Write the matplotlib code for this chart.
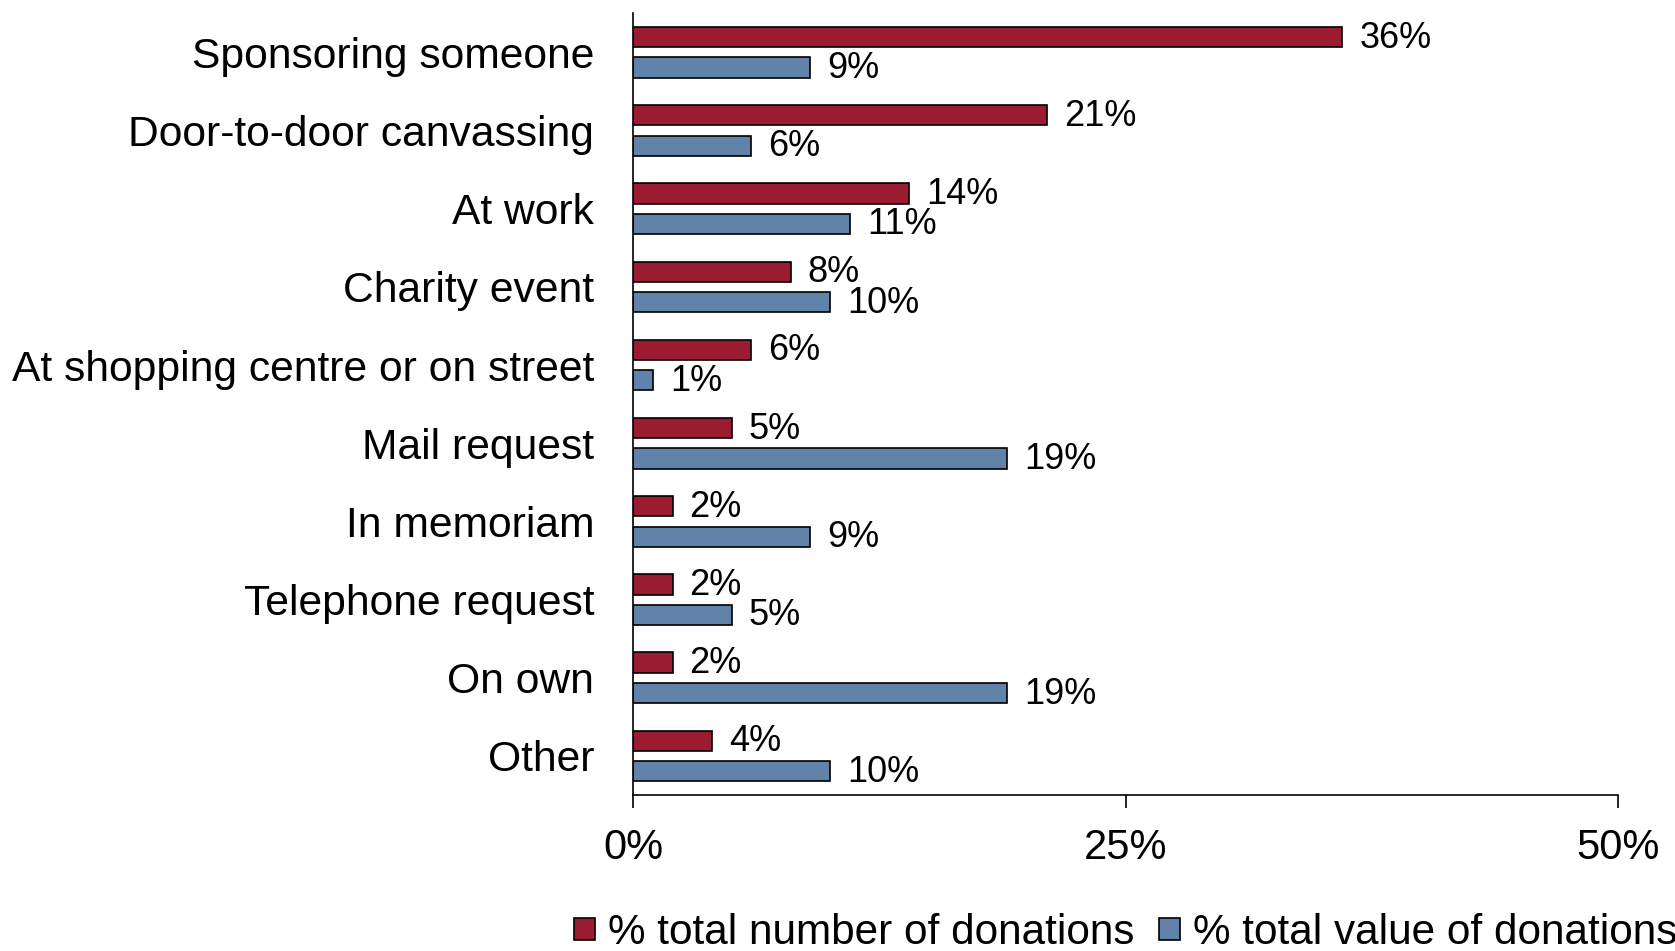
import matplotlib.pyplot as plt
import numpy as np

plt.rcParams["font.family"] = ["Liberation Sans", "DejaVu Sans"]

categories = ["Sponsoring someone", "Door-to-door canvassing", "At work", "Charity event",
              "At shopping centre or on street", "Mail request", "In memoriam",
              "Telephone request", "On own", "Other"]
pct_number = [36, 21, 14, 8, 6, 5, 2, 2, 2, 4]
pct_value = [9, 6, 11, 10, 1, 19, 9, 5, 19, 10]
xticks = [0, 25, 50]

red = "#9B1B30"
blue = "#6283A9"

fig = plt.figure(figsize=(16.75, 9.51), dpi=100)
ax = fig.add_axes([0.378, 0.164, 0.588, 0.822])

y = np.arange(len(categories))
off = 0.195
h = 0.26
b1 = ax.barh(y - off, pct_number, height=h, color=red, edgecolor="black", linewidth=1.2,
             label="% total number of donations")
b2 = ax.barh(y + off, pct_value, height=h, color=blue, edgecolor="black", linewidth=1.2,
             label="% total value of donations")

for bars, vals in ((b1, pct_number), (b2, pct_value)):
    for bar, v in zip(bars, vals):
        ax.annotate(f"{v}%", (bar.get_width(), bar.get_y() + bar.get_height() / 2),
                    xytext=(17, -1), textcoords="offset pixels", va="center", ha="left",
                    fontsize=26)

ax.set_xlim(0, 50)
ax.set_ylim(len(categories) - 0.5, -0.5)
ax.set_yticks(y)
ax.set_yticklabels(categories, fontsize=30.7)
ax.set_xticks(xticks)
ax.set_xticklabels([f"{t}%" for t in xticks], fontsize=30)
ax.tick_params(axis="y", length=0, pad=28)
ax.tick_params(axis="x", direction="out", length=9.4, width=1.2, pad=14)
for s in ("top", "right"):
    ax.spines[s].set_visible(False)
for s in ("left", "bottom"):
    ax.spines[s].set_linewidth(1.2)

fig.legend(handles=[b1, b2], loc="center", bbox_to_anchor=(0.672, 0.019), ncol=2,
           frameon=False, fontsize=30.4, handlelength=0.5, handleheight=0.45,
           handletextpad=0.3, columnspacing=0.6, borderaxespad=0)

fig.savefig("out.png", dpi=100)
